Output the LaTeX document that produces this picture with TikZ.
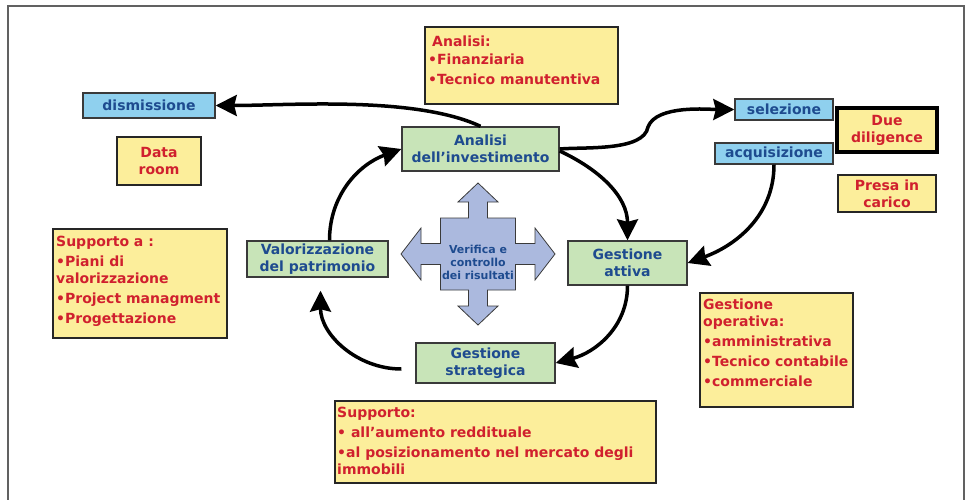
\documentclass[tikz,border=0pt]{standalone}
\usepackage{fontspec}
\setmainfont{DejaVu Sans}
\usepackage{tikz}
\usetikzlibrary{arrows.meta}
\definecolor{pgreen}{HTML}{C8E4B8}
\definecolor{pcyan}{HTML}{8FD0EE}
\definecolor{pyell}{HTML}{FCEE9B}
\definecolor{pcross}{HTML}{ABB9DE}
\definecolor{pblue}{HTML}{1E4B8F}
\definecolor{pred}{HTML}{D0202E}
\definecolor{pdark}{HTML}{3A3A3A}

\begin{document}
\begin{tikzpicture}[x=1pt, y=1pt, font=\bfseries\fontsize{14}{17}\selectfont,
  gbox/.style={draw=pdark, fill=pgreen, line width=1.4pt, inner sep=0pt,
               align=center, text=pblue},
  bbox/.style={draw=pdark, fill=pcyan, line width=1.4pt, inner sep=0pt,
               align=center, text=pblue},
  ybox/.style={draw=black!85, fill=pyell, line width=2.5pt, inner sep=0pt,
               align=center, text=pred},
  ylist/.style={anchor=north west, inner sep=0pt, align=left, text=pred},
  xtext/.style={inner sep=0pt, align=center, text=pblue,
                font=\bfseries\fontsize{11}{13}\selectfont},
  arr/.style={-{Stealth[length=21pt, width=21pt, inset=2.5pt]}, line width=3.5pt},
  frame/.style={draw=pdark!80, line width=1.5pt}]
  \useasboundingbox (0,0) rectangle (969,-500);
  \draw[frame] (8,-500) -- (8,-6) -- (964,-6) -- (964,-500);

  % cycle
  \node[gbox, minimum width=157pt, minimum height=44pt] (ana) at (480.5,-149) {Analisi\\dell’investimento};
  \node[gbox, minimum width=141pt, minimum height=36pt] (val) at (317.5,-259) {Valorizzazione\\del patrimonio};
  \node[gbox, minimum width=119pt, minimum height=44pt] (att) at (627.5,-263) {Gestione\\attiva};
  \node[gbox, minimum width=139pt, minimum height=40pt] (str) at (485.5,-363) {Gestione\\strategica};

  \node[bbox, minimum width=132pt, minimum height=25pt] (dis) at (149,-105.5) {dismissione};
  \node[bbox, minimum width=98pt, minimum height=21pt] (sel) at (784,-109.5) {selezione};
  \node[bbox, minimum width=118pt, minimum height=21pt] (acq) at (774,-153.5) {acquisizione};

  \node[ybox, minimum width=84pt, minimum height=48pt] (data) at (159,-161) {Data\\room};
  \node[ybox, draw=black, line width=4pt, minimum width=100pt, minimum height=44pt] (due) at (887,-130) {Due\\diligence};
  \node[ybox, minimum width=98pt, minimum height=37pt] (presa) at (887,-193.5) {Presa in\\carico};

  % notes
  \node[ybox, minimum width=193pt, minimum height=77pt] (anal) at (521.5,-65.5) {};
  \node[ylist] (anal-t) at (428,-36) {\hspace*{4pt}Analisi:\\[1pt]•Finanziaria\\[3pt]•Tecnico manutentiva};
  \node[ybox, minimum width=174pt, minimum height=109pt] (supa) at (140,-283.5) {};
  \node[ylist] (supa-t) at (56,-236) {Supporto a :\\[3pt]•Piani di\\valorizzazione\\[3pt]•Project managment\\[3pt]•Progettazione};
  \node[ybox, minimum width=153pt, minimum height=114pt] (oper) at (776.5,-350) {};
  \node[ylist] (oper-t) at (703,-299) {Gestione\\operativa:\\[3pt]•amministrativa\\[3pt]•Tecnico contabile\\[3pt]•commerciale};
  \node[ybox, minimum width=321pt, minimum height=82pt] (supp) at (495.5,-442) {};
  \node[ylist] (supp-t) at (337,-407) {Supporto:\\[3pt]• all’aumento reddituale\\[3pt]•al posizionamento nel mercato degli\\immobili};

  % cross
  \begin{scope}[shift={(478,-254)}]
    \filldraw[fill=pcross, draw=pdark, line width=0.8pt]
      (0,71) -- (20,52) -- (9.5,52) -- (9.5,36) -- (37.5,36) -- (37.5,10.5)
      -- (57,10.5) -- (57,26) -- (77,0) -- (57,-26) -- (57,-10.5) -- (37.5,-10.5)
      -- (37.5,-36) -- (9.5,-36) -- (9.5,-52) -- (20,-52) -- (0,-71) -- (-20,-52)
      -- (-9.5,-52) -- (-9.5,-36) -- (-37.5,-36) -- (-37.5,-10.5) -- (-57,-10.5)
      -- (-57,-26) -- (-77,0) -- (-57,26) -- (-57,10.5) -- (-37.5,10.5)
      -- (-37.5,36) -- (-9.5,36) -- (-9.5,52) -- (-20,52) -- cycle;
  \end{scope}
  \node[xtext] (verif) at (478,-262) {Verifica e\\controllo\\dei risultati};

  % arrows
  \coordinate (bend) at (648,-127);
  \coordinate (strout) at ([xshift=-14pt, yshift=-6pt]str.west);
  \coordinate (valin) at ([xshift=3pt, yshift=-13pt]val.south);
  \draw[arr] (ana.north) to[out=155, in=0, looseness=0.7] (dis.east);
  \draw[arr] (ana.east) to[out=5, in=-100, looseness=0.7] (bend)
             to[out=70, in=180, looseness=0.7] (sel.west);
  \draw[arr] ([yshift=-2pt]ana.east) to[out=-25, in=90] (att.north);
  \draw[arr] (acq.south) to[out=-90, in=20] (att.east);
  \draw[arr] (att.south) to[out=-90, in=15] (str.east);
  \draw[arr] (strout) to[out=180, in=-90] (valin);
  \draw[arr] ([xshift=12pt]val.north) to[out=90, in=200] (ana.west);
\end{tikzpicture}
\end{document}
